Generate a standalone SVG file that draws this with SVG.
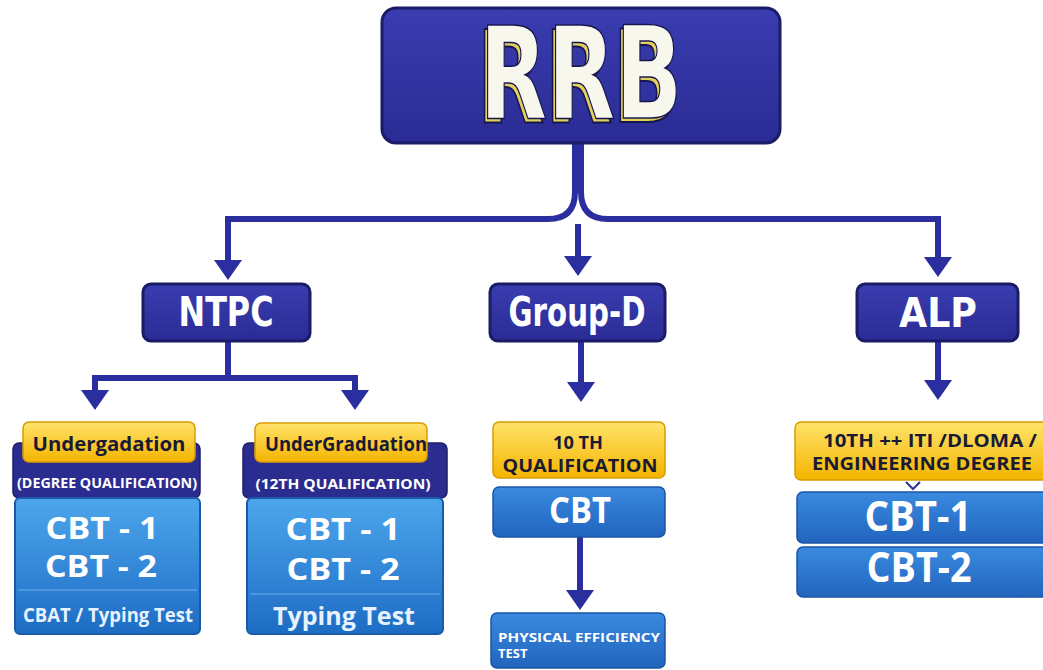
<svg xmlns="http://www.w3.org/2000/svg" width="1043" height="670" viewBox="0 0 1043 670">
<defs>
<linearGradient id="gNavy" x1="0" y1="0" x2="0" y2="1"><stop offset="0" stop-color="#3a3db0"/><stop offset="1" stop-color="#2a2b94"/></linearGradient>
<linearGradient id="gYel" x1="0" y1="0" x2="0" y2="1"><stop offset="0" stop-color="#ffe36a"/><stop offset="1" stop-color="#f4b400"/></linearGradient>
<linearGradient id="gSky" x1="0" y1="0" x2="0" y2="1"><stop offset="0" stop-color="#4da6ec"/><stop offset="1" stop-color="#1d6cc4"/></linearGradient>
<linearGradient id="gMid" x1="0" y1="0" x2="0" y2="1"><stop offset="0" stop-color="#3a8ae0"/><stop offset="1" stop-color="#2164bd"/></linearGradient>
<marker id="arr" viewBox="0 0 10 10" refX="3" refY="5" markerWidth="20" markerHeight="28" markerUnits="userSpaceOnUse" orient="auto" preserveAspectRatio="none"><path d="M0,0 L10,5 L0,10 z" fill="#2b2e9e"/></marker>
</defs>
<style>
.navy{fill:url(#gNavy);stroke:#1b1c66;stroke-width:3}
.yel{fill:url(#gYel);stroke:#d99c00;stroke-width:1.5}
.band{fill:#2b2c8f;stroke:#1d1e6a;stroke-width:1.5}
.sky{fill:url(#gSky);stroke:#1a5aa8;stroke-width:2}
.mid{fill:url(#gMid);stroke:#1a55a5;stroke-width:1.5}
.cond{font-family:"Liberation Sans Narrow","DejaVu Sans Condensed","Liberation Sans",sans-serif;font-weight:bold;fill:#ffffff;text-anchor:middle}
.os{font-family:"Open Sans","Liberation Sans",sans-serif;font-weight:bold;text-anchor:middle}
.dk{fill:#1a1a33}
.wh{fill:#ffffff}
.lt{fill:#e6f2ff}
.con{fill:none;stroke:#2b2e9e;stroke-width:6}
.sep{stroke:#7fc0f5;stroke-width:1.2;opacity:0.8}
</style>
<rect width="1043" height="670" fill="#ffffff"/>

<g id="connectors">
<path class="con" d="M575 143 V192 Q575 219 548 219 H228 V266" marker-end="url(#arr)"/>
<path class="con" d="M581 143 V192 Q581 219 608 219 H938 V263" marker-end="url(#arr)"/>
<path class="con" d="M578 224 V262" marker-end="url(#arr)"/>
<path class="con" d="M228 341 V378 H95 V396" marker-end="url(#arr)"/>
<path class="con" d="M228 378 H355 V396" marker-end="url(#arr)"/>
<path class="con" d="M581 341 V388" marker-end="url(#arr)"/>
<path class="con" d="M938 341 V386" marker-end="url(#arr)"/>
<path class="con" d="M580 537 V596" marker-end="url(#arr)"/>
</g>

<g id="rrb">
<rect class="navy" x="382" y="8" width="398" height="135" rx="14"/>
<text class="cond" x="578" y="122" font-size="128" textLength="203" lengthAdjust="spacingAndGlyphs" style="fill:#e3cf5c;stroke:#16164f;stroke-width:2">RRB</text>
<text class="cond" x="581" y="118" font-size="128" textLength="203" lengthAdjust="spacingAndGlyphs" style="fill:#f7f7ee;stroke:#16164f;stroke-width:1.5">RRB</text>
</g>

<g id="ntpc">
<rect class="navy" x="143" y="284" width="167" height="57" rx="8"/>
<text class="cond" x="226" y="326" font-size="40" textLength="95" lengthAdjust="spacingAndGlyphs">NTPC</text>
</g>
<g id="groupd">
<rect class="navy" x="490" y="284" width="175" height="57" rx="8"/>
<text class="cond" x="577" y="326" font-size="40" textLength="137" lengthAdjust="spacingAndGlyphs">Group-D</text>
</g>
<g id="alp">
<rect class="navy" x="857" y="284" width="161" height="57" rx="8"/>
<text class="cond" x="938" y="327" font-size="40" textLength="78" lengthAdjust="spacingAndGlyphs">ALP</text>
</g>

<g id="undergrad-degree">
<rect class="band" x="13" y="443" width="187" height="55" rx="6"/>
<rect class="sky" x="15" y="498" width="185" height="136" rx="5"/>
<line class="sep" x1="18" y1="590" x2="197" y2="590"/>
<rect class="yel" x="23" y="422" width="172" height="40" rx="6"/>
<text class="os dk" x="109" y="451" font-size="20" textLength="153" lengthAdjust="spacingAndGlyphs">Undergadation</text>
<text class="os wh" x="107" y="488" font-size="14" textLength="180" lengthAdjust="spacingAndGlyphs">(DEGREE QUALIFICATION)</text>
<text class="os wh" x="102" y="539" font-size="31" textLength="113" lengthAdjust="spacingAndGlyphs">CBT - 1</text>
<text class="os wh" x="101" y="577" font-size="31" textLength="112" lengthAdjust="spacingAndGlyphs">CBT - 2</text>
<text class="os lt" x="108" y="622" font-size="20" textLength="170" lengthAdjust="spacingAndGlyphs">CBAT / Typing Test</text>
</g>

<g id="undergrad-12th">
<rect class="band" x="243" y="443" width="204" height="55" rx="6"/>
<rect class="sky" x="247" y="498" width="196" height="136" rx="5"/>
<line class="sep" x1="250" y1="594" x2="440" y2="594"/>
<rect class="yel" x="255" y="423" width="172" height="39" rx="6"/>
<text class="os dk" x="346" y="451" font-size="20" textLength="162" lengthAdjust="spacingAndGlyphs">UnderGraduation</text>
<text class="os wh" x="343" y="489" font-size="14" textLength="175" lengthAdjust="spacingAndGlyphs">(12TH QUALIFICATION)</text>
<text class="os wh" x="343" y="540" font-size="31" textLength="115" lengthAdjust="spacingAndGlyphs">CBT - 1</text>
<text class="os wh" x="343" y="580" font-size="31" textLength="113" lengthAdjust="spacingAndGlyphs">CBT - 2</text>
<text class="os lt" x="344" y="625" font-size="25" textLength="142" lengthAdjust="spacingAndGlyphs">Typing Test</text>
</g>

<g id="tenth">
<rect class="yel" x="493" y="422" width="172" height="56" rx="6"/>
<text class="os dk" x="578" y="449" font-size="17" textLength="50" lengthAdjust="spacingAndGlyphs">10 TH</text>
<text class="os dk" x="580" y="472" font-size="17" textLength="155" lengthAdjust="spacingAndGlyphs">QUALIFICATION</text>
</g>
<g id="cbt-groupd">
<rect class="mid" x="493" y="487" width="172" height="50" rx="6"/>
<text class="os wh" x="580" y="523" font-size="36" textLength="62" lengthAdjust="spacingAndGlyphs">CBT</text>
</g>
<g id="pet">
<rect class="mid" x="491" y="613" width="174" height="55" rx="6"/>
<text class="os wh" x="498" y="642" font-size="13" textLength="162" lengthAdjust="spacingAndGlyphs" style="text-anchor:start">PHYSICAL EFFICIENCY</text>
<text class="os wh" x="498" y="658" font-size="13" style="text-anchor:start">TEST</text>
</g>

<g id="alp-qual">
<rect class="yel" x="795" y="422" width="260" height="58" rx="6"/>
<text class="os dk" x="930" y="447" font-size="18" textLength="214" lengthAdjust="spacingAndGlyphs">10TH ++ ITI /DLOMA /</text>
<text class="os dk" x="922" y="470" font-size="18" textLength="220" lengthAdjust="spacingAndGlyphs">ENGINEERING DEGREE</text>
<path d="M906 482 L913 489 L920 482" fill="none" stroke="#2b2e9e" stroke-width="2"/>
</g>
<g id="alp-cbt1">
<rect class="mid" x="797" y="492" width="258" height="51" rx="6"/>
<text class="os wh" x="918" y="531" font-size="42" textLength="107" lengthAdjust="spacingAndGlyphs">CBT-1</text>
</g>
<g id="alp-cbt2">
<rect class="mid" x="797" y="547" width="258" height="50" rx="6"/>
<text class="os wh" x="919" y="582" font-size="42" textLength="105" lengthAdjust="spacingAndGlyphs">CBT-2</text>
</g>
</svg>
